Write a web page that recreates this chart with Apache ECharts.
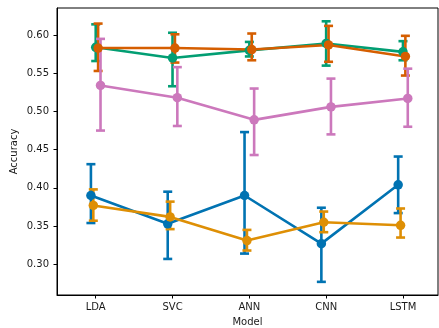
<!DOCTYPE html>
<html>
<head>
<meta charset="utf-8">
<script src="https://cdn.jsdelivr.net/npm/echarts@6/dist/echarts.min.js"></script>
<style>
html, body { margin: 0; padding: 0; background: #fff; }
#chart { width: 439px; height: 328px; }
</style>
</head>
<body>
<div id="chart"></div>
<script>
var models = ['LDA', 'SVC', 'ANN', 'CNN', 'LSTM'];
var yTicks = [0.30, 0.35, 0.40, 0.45, 0.50, 0.55, 0.60];

// mean and error bar ends, one set per hue (in draw order)
var blueMean = [0.390, 0.353, 0.390, 0.327, 0.404];
var blueLow  = [0.354, 0.307, 0.314, 0.277, 0.367];
var blueHigh = [0.431, 0.395, 0.473, 0.374, 0.441];

var amberMean = [0.377, 0.362, 0.331, 0.355, 0.351];
var amberLow  = [0.357, 0.346, 0.318, 0.342, 0.335];
var amberHigh = [0.398, 0.382, 0.345, 0.369, 0.373];

var greenMean = [0.584, 0.570, 0.580, 0.589, 0.578];
var greenLow  = [0.566, 0.533, 0.572, 0.560, 0.567];
var greenHigh = [0.614, 0.603, 0.591, 0.618, 0.592];

var redMean = [0.583, 0.583, 0.581, 0.587, 0.572];
var redLow  = [0.553, 0.564, 0.567, 0.565, 0.547];
var redHigh = [0.615, 0.601, 0.602, 0.612, 0.599];

var pinkMean = [0.534, 0.518, 0.489, 0.506, 0.517];
var pinkLow  = [0.475, 0.481, 0.443, 0.470, 0.480];
var pinkHigh = [0.595, 0.558, 0.530, 0.543, 0.556];

var hues = [
    {name: 'blue',  color: '#0173b2', mean: blueMean,  low: blueLow,  high: blueHigh,  dodge: -0.0625},
    {name: 'amber', color: '#de8f05', mean: amberMean, low: amberLow, high: amberHigh, dodge: -0.03125},
    {name: 'green', color: '#029e73', mean: greenMean, low: greenLow, high: greenHigh, dodge: 0},
    {name: 'red',   color: '#d55e00', mean: redMean,   low: redLow,   high: redHigh,   dodge: 0.03125},
    {name: 'pink',  color: '#cc78bc', mean: pinkMean,  low: pinkLow,  high: pinkHigh,  dodge: 0.0625}
];

var chart = echarts.init(document.getElementById('chart'));

function errorBars(color) {
    return function(params, api) {
        var x = api.value(0);
        var top = api.coord([x, api.value(2)]);
        var bot = api.coord([x, api.value(1)]);
        var hw = 4.5;
        var style = {stroke: color, lineWidth: 2.6, fill: null};
        return {
            type: 'group',
            children: [
                {type: 'line', shape: {x1: top[0], y1: top[1], x2: bot[0], y2: bot[1]}, style: style},
                {type: 'line', shape: {x1: top[0] - hw, y1: top[1], x2: top[0] + hw, y2: top[1]}, style: style},
                {type: 'line', shape: {x1: bot[0] - hw, y1: bot[1], x2: bot[0] + hw, y2: bot[1]}, style: style}
            ]
        };
    };
}

var series = [];
hues.forEach(function(h) {
    var bars = [], pts = [];
    for (var i = 0; i < models.length; i++) {
        var x = i + h.dodge;
        bars.push([x, h.low[i], h.high[i]]);
        pts.push([x, h.mean[i]]);
    }
    series.push({
        name: h.name,
        type: 'custom',
        renderItem: errorBars(h.color),
        encode: {x: 0, y: [1, 2]},
        data: bars,
        silent: true
    });
    series.push({
        name: h.name,
        type: 'line',
        data: pts,
        symbol: 'circle',
        symbolSize: 9.5,
        showSymbol: true,
        itemStyle: {color: h.color},
        lineStyle: {color: h.color, width: 2.6}
    });
});

var textColor = '#1a1a1a';
var font = 'DejaVu Sans';

chart.setOption({
    animation: false,
    grid: {
        left: 57, right: 1, top: 8, bottom: 33,
        outerBoundsMode: 'none',
        containLabel: false,
        show: true, borderColor: '#000', borderWidth: 1
    },
    xAxis: {
        type: 'value',
        min: -0.504,
        max: 4.456,
        name: 'Model',
        nameLocation: 'middle',
        nameGap: 22,
        nameMoveOverlap: false,
        nameTextStyle: {color: textColor, fontSize: 10, fontFamily: font},
        splitLine: {show: false},
        axisLine: {show: true, onZero: false, lineStyle: {color: '#000', width: 1}},
        axisTick: {show: true, length: 3.5, lineStyle: {color: '#000'}, customValues: [0, 1, 2, 3, 4]},
        axisLabel: {
            color: textColor, fontSize: 10, fontFamily: font, margin: 7,
            customValues: [0, 1, 2, 3, 4],
            formatter: function(v) { return models[Math.round(v)]; }
        }
    },
    yAxis: {
        type: 'value',
        min: 0.2598,
        max: 0.6354,
        name: 'Accuracy',
        nameLocation: 'middle',
        nameGap: 38,
        nameMoveOverlap: false,
        nameTextStyle: {color: textColor, fontSize: 10, fontFamily: font},
        splitLine: {show: false},
        axisLine: {show: true, onZero: false, lineStyle: {color: '#000', width: 1}},
        axisTick: {show: true, length: 3.5, lineStyle: {color: '#000'}, customValues: yTicks},
        axisLabel: {
            color: textColor, fontSize: 10, fontFamily: font, margin: 8,
            customValues: yTicks,
            formatter: function(v) { return v.toFixed(2); }
        }
    },
    series: series
});
</script>
</body>
</html>
